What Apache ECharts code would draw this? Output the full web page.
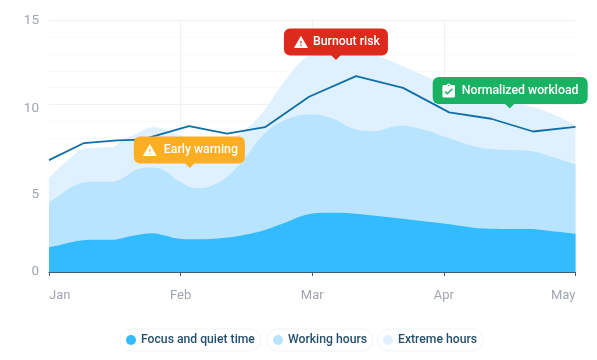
<!DOCTYPE html>
<html>
<head>
<meta charset="utf-8">
<style>
  html, body { margin: 0; padding: 0; background: #fff; }
  #chart { width: 597px; height: 360px; }
</style>
</head>
<body>
<div id="chart"></div>
<script src="https://cdn.jsdelivr.net/npm/echarts@6/dist/echarts.min.js"></script>
<script>
const months = ['Jan', 'Feb', 'Mar', 'Apr', 'May'];

// x position in months since Jan
const areaX = [0, 0.084, 0.16, 0.258, 0.365, 0.479, 0.562, 0.669, 0.783, 0.881, 0.973, 1.125, 1.299, 1.451, 1.626, 1.778, 1.983, 2.135, 2.31, 2.462, 2.667, 2.895, 2.994, 3.351, 3.655, 3.807, 4];
const focusHours = [1.47, 1.61, 1.76, 1.89, 1.92, 1.92, 2.03, 2.2, 2.31, 2.18, 2.0, 1.95, 2.01, 2.16, 2.47, 2.89, 3.46, 3.53, 3.49, 3.37, 3.19, 2.98, 2.9, 2.58, 2.56, 2.44, 2.28];
const workingHours = [4.13, 4.59, 5.02, 5.32, 5.38, 5.38, 5.62, 6.12, 6.24, 6.04, 5.48, 4.99, 5.38, 6.44, 8.16, 9.02, 9.4, 9.22, 8.56, 8.4, 8.73, 8.4, 8.1, 7.33, 7.21, 6.91, 6.42];
const extremeHours = [5.62, 6.26, 6.79, 7.33, 7.41, 7.45, 7.87, 8.28, 8.64, 8.52, 8.22, 7.87, 7.81, 8.28, 9.54, 11.26, 12.93, 13.11, 13.17, 12.99, 12.34, 11.56, 11.26, 10.43, 9.89, 9.48, 8.76];

const lineX = [0, 0.266, 0.517, 0.707, 1.064, 1.353, 1.641, 1.976, 2.333, 2.69, 3.04, 3.359, 3.678, 4];
const lineValues = [6.67, 7.69, 7.85, 7.9, 8.7, 8.25, 8.64, 10.45, 11.68, 10.98, 9.52, 9.14, 8.38, 8.66];

const calloutNames = ['Early warning', 'Burnout risk', 'Normalized workload'];
const calloutX = [1.07, 2.18, 3.5];
const calloutY = [6.2, 12.65, 9.75];

const font = 'Roboto, "Noto Sans", sans-serif';
const warnIcon = 'M1 21h22L12 2 1 21zm12-3h-2v-2h2v2zm0-4h-2v-4h2v4z';
const clipIcon = 'M19 3h-4.18C14.4 1.84 13.3 1 12 1c-1.3 0-2.4.84-2.82 2H5c-1.1 0-2 .9-2 2v14c0 1.1.9 2 2 2h14c1.1 0 2-.9 2-2V5c0-1.1-.9-2-2-2zm-7 0c.55 0 1 .45 1 1s-.45 1-1 1-1-.45-1-1 .45-1 1-1zm-2 14l-4-4 1.41-1.41L10 14.17l6.59-6.59L18 9l-8 8z';

// box offsets are relative to the tip of the callout
const calloutStyles = [
  { color: '#fdae22', left: -56, right: 55, icon: warnIcon, iconX: -40, textX: -26 },
  { color: '#dc2a1c', left: -52, right: 52, icon: warnIcon, iconX: -35, textX: -23 },
  { color: '#17b262', left: -77, right: 78, icon: clipIcon, iconX: -61, textX: -48 }
];

const pairs = (xs, ys) => xs.map((x, i) => [x, ys[i]]);

const areaSeries = (name, values, color, z) => ({
  name,
  type: 'line',
  data: pairs(areaX, values),
  smooth: 0.4,
  showSymbol: false,
  lineStyle: { width: 0 },
  itemStyle: { color },
  areaStyle: { color, opacity: 1 },
  z
});

const pill = (name, left) => ({
  data: [name],
  left,
  top: 329,
  icon: 'circle',
  itemWidth: 10,
  itemHeight: 10,
  padding: [5, 6, 5, 6],
  borderColor: '#f1f3f6',
  borderWidth: 1,
  borderRadius: 11,
  backgroundColor: '#fff',
  selectedMode: false,
  textStyle: { color: '#26506f', fontFamily: font, fontSize: 12.2, fontWeight: 500 }
});

const renderCallout = (params, api) => {
  const s = calloutStyles[params.dataIndex];
  const tip = api.coord([api.value(0), api.value(1)]);
  const bottom = tip[1] - 4.5;
  const top = bottom - 27;
  return {
    type: 'group',
    x: tip[0],
    children: [
      {
        type: 'rect',
        shape: { x: s.left, y: top, width: s.right - s.left, height: 27, r: 6 },
        style: { fill: s.color }
      },
      {
        type: 'polygon',
        shape: { points: [[-5, bottom - 0.5], [5, bottom - 0.5], [0, tip[1]]] },
        style: { fill: s.color }
      },
      {
        type: 'path',
        shape: { pathData: s.icon, x: s.iconX - 7, y: top + 6.5, width: 14, height: 14 },
        style: { fill: '#fff' }
      },
      {
        type: 'text',
        style: {
          x: s.textX,
          y: top + 13.5,
          text: calloutNames[params.dataIndex],
          fill: '#fff',
          font: '500 12.3px ' + font,
          verticalAlign: 'middle'
        }
      }
    ]
  };
};

const chart = echarts.init(document.getElementById('chart'));

chart.setOption({
  animation: false,
  grid: { left: 49, right: 21.5, top: 20.5, bottom: 88 },
  legend: [
    pill('Focus and quiet time', 120),
    pill('Working hours', 267),
    pill('Extreme hours', 377)
  ],
  xAxis: [
    {
      type: 'value',
      min: 0,
      max: 4,
      interval: 1,
      axisLine: { show: false },
      axisTick: { show: false },
      axisLabel: {
        color: '#a0a6ae',
        fontFamily: font,
        fontSize: 13,
        margin: 17,
        alignMinLabel: 'left',
        alignMaxLabel: 'right',
        formatter: (v) => months[v]
      },
      splitLine: { show: true, showMinLine: false, showMaxLine: false, lineStyle: { color: '#eff0f2' } }
    },
    {
      // baseline and ticks sit above the areas, the vertical grid stays behind them
      type: 'value',
      position: 'bottom',
      min: 0,
      max: 4,
      interval: 1,
      z: 5,
      axisLine: { onZero: false, lineStyle: { color: '#3f5c75', width: 1 } },
      axisTick: { show: true, length: 4, lineStyle: { color: '#3f5c75' } },
      axisLabel: { show: false },
      splitLine: { show: false }
    }
  ],
  yAxis: {
    type: 'value',
    min: 0,
    max: 15,
    interval: 5,
    axisLine: { show: false },
    axisTick: { show: false },
    axisLabel: {
      color: '#a0a6ae',
      fontFamily: font,
      fontSize: 13.5,
      margin: 10,
      formatter: (v) => (v === 5 ? '{five|5}' : v === 10 ? '{ten|10}' : String(v)),
      rich: {
        five: { color: '#a0a6ae', fontFamily: font, fontSize: 13.5, padding: [13, 0, 0, 0] },
        ten: { color: '#a0a6ae', fontFamily: font, fontSize: 13.5, padding: [8, 0, 0, 0] }
      }
    },
    splitLine: { lineStyle: { color: '#f0f1f3' } },
    minorTick: { show: false, splitNumber: 5 },
    minorSplitLine: { show: true, lineStyle: { color: '#f9fafb' } }
  },
  series: [
    areaSeries('Extreme hours', extremeHours, '#dff1ff', 1),
    areaSeries('Working hours', workingHours, '#b8e4ff', 2),
    areaSeries('Focus and quiet time', focusHours, '#33bbff', 3),
    {
      type: 'line',
      data: pairs(lineX, lineValues),
      showSymbol: false,
      lineStyle: { color: '#0f6fa8', width: 1.8 },
      z: 4
    },
    {
      type: 'custom',
      data: pairs(calloutX, calloutY),
      renderItem: renderCallout,
      clip: false,
      z: 6
    }
  ]
});
</script>
</body>
</html>
